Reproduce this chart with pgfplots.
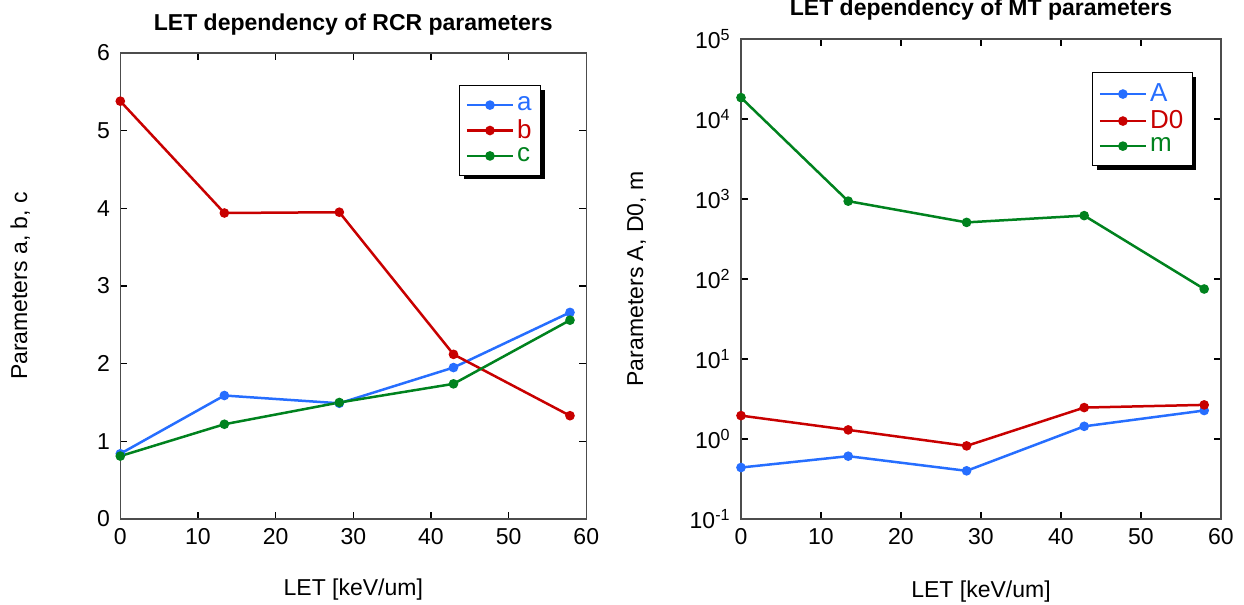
\documentclass[border=0pt]{standalone}
\usepackage{pgfplots}
\pgfplotsset{compat=1.18}
\usepackage{fontspec}
\setmainfont{Liberation Sans}
\usetikzlibrary{shadows}
\definecolor{cblue}{RGB}{38,110,255}
\definecolor{cred}{RGB}{200,0,0}
\definecolor{cgreen}{RGB}{0,130,30}
\makeatletter
\tikzset{noshadow/.code={\let\tikz@preactions\pgfutil@empty}}
\makeatother
\pgfplotsset{
 myaxis/.style={
  scale only axis,
  xmin=0,xmax=60, xtick={0,10,...,60},
  font=\fontsize{11.5}{13}\selectfont,
  /pgf/number format/assume math mode=true,
  axis line style={black!70, line width=0.6pt},
  major tick style={black, line width=0.6pt},
  major tick length=3.5pt,
  xminorticks=false, yminorticks=false,
  tick align=inside,
  clip=false,
  title style={at={(0.5,1)}, anchor=base, yshift=5.5pt, font=\bfseries\fontsize{11.5}{13}\selectfont},
  xticklabel style={anchor=base, yshift=-13pt},
  yticklabel style={anchor=east, inner sep=0pt, xshift=-5pt},
  xlabel style={at={(axis description cs:0.5,0)}, anchor=base, yshift=-38.5pt},
  legend style={draw=black, line width=0.6pt, fill=white, font=\fontsize{13}{14}\selectfont,
    drop shadow={shadow xshift=2pt, shadow yshift=-2pt, fill=black, opacity=1},
    inner xsep=3pt, inner ysep=4pt, row sep=0pt,
    nodes={inner sep=1.5pt}},
  legend cell align=left,
  legend image code/.code={\draw[noshadow,mark repeat=2,mark phase=2,#1] plot coordinates {(0pt,0pt)(11.5pt,0pt)(23pt,0pt)};},
  every axis plot/.append style={line width=1.25pt, mark=*, mark size=1.75pt},
 }
}
\begin{document}
\begin{tikzpicture}
\useasboundingbox (0,0) rectangle (622pt,302.5pt);
\begin{axis}[myaxis, at={(60.15pt,43pt)}, anchor=south west, width=233pt, height=233pt,
  ymin=0, ymax=6, ytick={0,1,...,6},
  title={LET dependency of RCR parameters},
  xlabel={LET [keV/um]},
  ylabel={Parameters a, b, c},
  ylabel style={at={(axis description cs:-0.2,0.5)}, rotate=0, anchor=base},
  legend style={at={(1,1)}, anchor=north east, xshift=-22.5pt, yshift=-16pt},
]
\addplot[cblue] coordinates {(0,0.84) (13.4,1.59) (28.2,1.49) (42.9,1.95) (57.9,2.66)};
\addlegendentry{\textcolor{cblue}{a}}
\addplot[cred] coordinates {(0,5.38) (13.4,3.94) (28.2,3.95) (42.9,2.12) (57.9,1.33)};
\addlegendentry{\textcolor{cred}{b}}
\addplot[cgreen] coordinates {(0,0.81) (13.4,1.22) (28.2,1.50) (42.9,1.74) (57.9,2.56)};
\addlegendentry{\textcolor{cgreen}{c}}
\end{axis}
\begin{axis}[myaxis, at={(370.5pt,43pt)}, anchor=south west, width=240pt, height=240pt,
  ymode=log, ymin=0.1, ymax=100000,
  ytick={0.1,1,10,100,1000,10000,100000},
  yticklabels={10\textsuperscript{-1},10\textsuperscript{0},10\textsuperscript{1},10\textsuperscript{2},10\textsuperscript{3},10\textsuperscript{4},10\textsuperscript{5}},
  title={LET dependency of MT parameters},
  title style={yshift=0.4pt},
  xlabel={LET [keV/um]},
  xlabel style={yshift=-1pt},
  ylabel={Parameters A, D0, m},
  ylabel style={at={(axis description cs:-0.204,0.5)}, rotate=0, anchor=base},
  legend style={at={(1,1)}, anchor=north east, xshift=-14pt, yshift=-16.5pt},
]
\addplot[cblue] coordinates {(0,0.44) (13.4,0.61) (28.2,0.40) (42.9,1.44) (57.9,2.27)};
\addlegendentry{\textcolor{cblue}{A}}
\addplot[cred] coordinates {(0,1.96) (13.4,1.30) (28.2,0.82) (42.9,2.47) (57.9,2.67)};
\addlegendentry{\textcolor{cred}{D0}}
\addplot[cgreen] coordinates {(0,18500) (13.4,940) (28.2,510) (42.9,620) (57.9,75)};
\addlegendentry{\textcolor{cgreen}{m}}
\end{axis}
\end{tikzpicture}
\end{document}
